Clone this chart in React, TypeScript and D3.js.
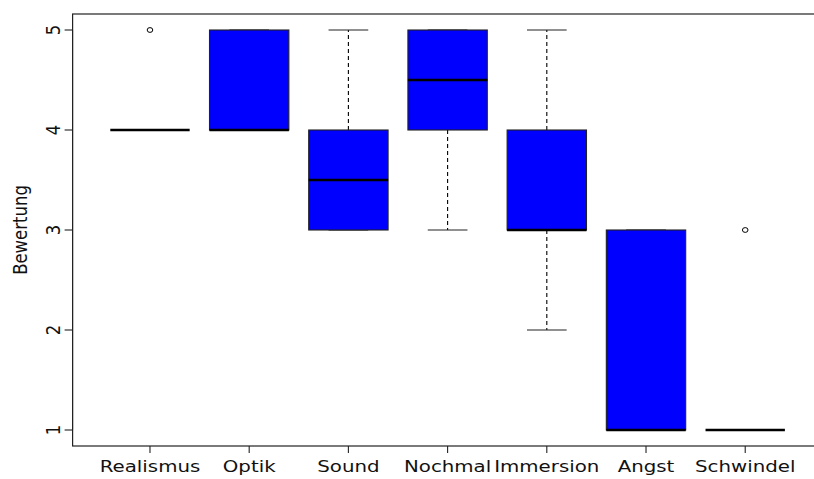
import * as d3 from "d3";
import { useEffect, useRef } from "react";

const categories = ["Realismus", "Optik", "Sound", "Nochmal", "Immersion", "Angst", "Schwindel"];
const lowerWhisker = [4, 4, 3, 3, 2, 1, 1];
const q1 = [4, 4, 3, 4, 3, 1, 1];
const median = [4, 4, 3.5, 4.5, 3, 1, 1];
const q3 = [4, 5, 4, 5, 4, 3, 1];
const upperWhisker = [4, 5, 5, 5, 5, 3, 1];
const outliers = [[5], [], [], [], [], [], [3]];
const yTicks = [1, 2, 3, 4, 5];

const App: React.FC = () => {
  const ref = useRef<SVGSVGElement | null>(null);

  useEffect(() => {
    if (!ref.current) return;
    const svg = d3.select(ref.current);
    svg.selectAll("*").remove();

    const font = "'DejaVu Sans', sans-serif";
    const stretch = 1.2; // source picture is a bit wider than tall

    // R style: 4% padding on both axes
    const x = d3.scaleLinear().domain([0.22, 7.78]).range([72.6, 822.6]);
    const y = d3.scaleLinear().domain([0.84, 5.16]).range([446, 14]);
    const unit = x(1) - x(0);
    const halfBox = 0.4 * unit;
    const halfStaple = 0.2 * unit;

    const g = svg.append("g");

    categories.forEach((_, i) => {
      const cx = x(i + 1);

      // whiskers (dashed)
      [
        [q3[i], upperWhisker[i]],
        [q1[i], lowerWhisker[i]],
      ].forEach(([a, b]) => {
        if (a === b) return;
        g.append("line")
          .attr("x1", cx).attr("x2", cx)
          .attr("y1", y(a)).attr("y2", y(b))
          .attr("stroke", "#000")
          .attr("stroke-width", 1.1)
          .attr("stroke-dasharray", "4,3");
      });

      // staples
      [upperWhisker[i], lowerWhisker[i]].forEach((v) => {
        g.append("line")
          .attr("x1", cx - halfStaple).attr("x2", cx + halfStaple)
          .attr("y1", y(v)).attr("y2", y(v))
          .attr("stroke", "#222")
          .attr("stroke-width", 1.1);
      });

      // box
      if (q3[i] !== q1[i]) {
        g.append("rect")
          .attr("x", cx - halfBox)
          .attr("y", y(q3[i]))
          .attr("width", 2 * halfBox)
          .attr("height", y(q1[i]) - y(q3[i]))
          .attr("fill", "#0000ff")
          .attr("stroke", "#222")
          .attr("stroke-width", 1.1);
      }

      // median
      g.append("line")
        .attr("x1", cx - halfBox).attr("x2", cx + halfBox)
        .attr("y1", y(median[i])).attr("y2", y(median[i]))
        .attr("stroke", "#000")
        .attr("stroke-width", 2.6);

      // outliers
      outliers[i].forEach((v) => {
        g.append("ellipse")
          .attr("cx", cx).attr("cy", y(v))
          .attr("rx", 2.8).attr("ry", 2.4)
          .attr("fill", "none")
          .attr("stroke", "#000")
          .attr("stroke-width", 1);
      });
    });

    // frame
    const [x0, x1] = x.range();
    const [yb, yt] = y.range();
    svg.append("rect")
      .attr("x", x0).attr("y", yt)
      .attr("width", x1 - x0).attr("height", yb - yt)
      .attr("fill", "none")
      .attr("stroke", "#222")
      .attr("stroke-width", 1.2);

    // y axis
    const ya = svg.append("g");
    ya.append("line")
      .attr("x1", x0).attr("x2", x0)
      .attr("y1", y(1)).attr("y2", y(5))
      .attr("stroke", "#222");
    yTicks.forEach((t) => {
      ya.append("line")
        .attr("x1", x0 - 8).attr("x2", x0)
        .attr("y1", y(t)).attr("y2", y(t))
        .attr("stroke", "#222")
        .attr("stroke-width", 1.1);
      ya.append("text")
        .attr("transform", `translate(60,${y(t)}) scale(${stretch},1) rotate(-90)`)
        .attr("text-anchor", "middle")
        .attr("font-family", font)
        .attr("font-size", 16.5)
        .attr("fill", "#111")
        .text(String(t));
    });

    // x axis
    const xa = svg.append("g");
    categories.forEach((c, i) => {
      const cx = x(i + 1);
      xa.append("line")
        .attr("x1", cx).attr("x2", cx)
        .attr("y1", yb).attr("y2", yb + 7)
        .attr("stroke", "#222")
        .attr("stroke-width", 1.1);
      xa.append("text")
        .attr("transform", `translate(${cx},472) scale(${stretch},1)`)
        .attr("text-anchor", "middle")
        .attr("font-family", font)
        .attr("font-size", 16.5)
        .attr("fill", "#111")
        .text(c);
    });

    // y label
    svg.append("text")
      .attr("transform", `translate(27,${(y(1) + y(5)) / 2}) scale(${stretch},1) rotate(-90)`)
      .attr("text-anchor", "middle")
      .attr("font-family", font)
      .attr("font-size", 16.5)
      .attr("fill", "#111")
      .text("Bewertung");
  }, []);

  return (
    <svg
      ref={ref}
      width={814}
      height={479}
      style={{ position: "absolute", left: 0, top: 0, background: "#fff" }}
    />
  );
};

export default App;
